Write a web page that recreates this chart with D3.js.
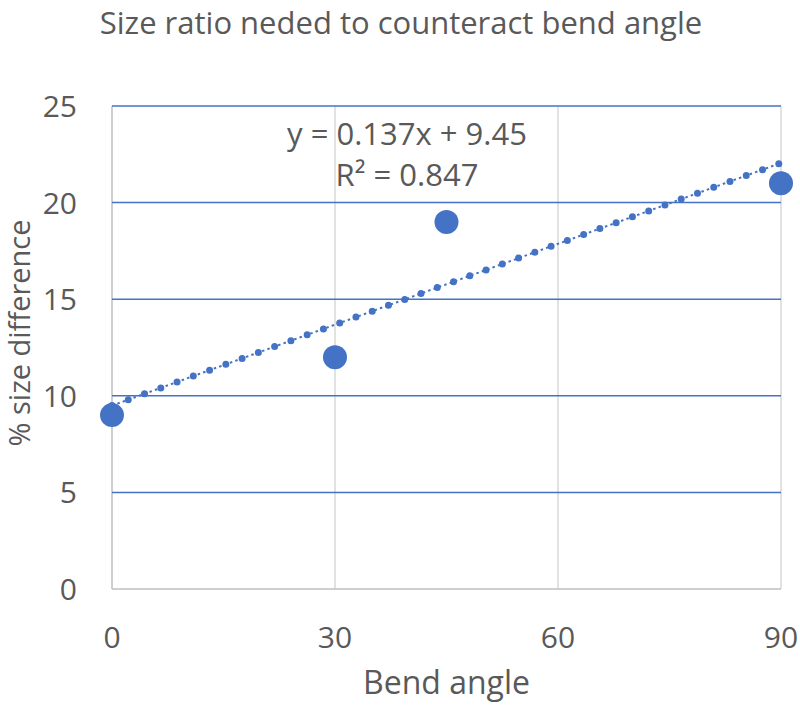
<!DOCTYPE html>
<html>
<head>
<meta charset="utf-8">
<script src="https://cdn.jsdelivr.net/npm/d3@7"></script>
<style>
  body { margin: 0; background: #fff; }
  text { font-family: "Open Sans", sans-serif; fill: #595959; }
</style>
</head>
<body>
<div id="container"></div>
<script>
// Datos
var angles = [0, 30, 45, 90]
var sizeDiff = [9, 12, 19, 21]
var xTicks = [0, 30, 60, 90]
var yTicks = [0, 5, 10, 15, 20, 25]
var eqLines = ["y = 0.137x + 9.45", "R² = 0.847"]

var margin = { top: 106, left: 112, right: 19, bottom: 117 },
  width = 800 - margin.left - margin.right,
  height = 706 - margin.top - margin.bottom

var svg = d3.select("#container")
  .append("svg")
  .attr("width", 800)
  .attr("height", 706)

var g = svg.append("g")
  .attr("transform", "translate(" + margin.left + "," + margin.top + ")")

// Escalas
var x = d3.scaleLinear().domain([0, 90]).range([0, width])
var y = d3.scaleLinear().domain([0, 25]).range([height, 0])

// Grade vertical
g.selectAll(".vgrid")
  .data(xTicks)
  .enter().append("line")
  .attr("x1", function(d) { return x(d) })
  .attr("x2", function(d) { return x(d) })
  .attr("y1", 0)
  .attr("y2", height)
  .attr("stroke", function(d) { return d == 0 ? "#bfbfbf" : "#d9d9d9" })
  .attr("stroke-width", 1.5)

// Grade horizontal
g.selectAll(".hgrid")
  .data(yTicks)
  .enter().append("line")
  .attr("x1", 0)
  .attr("x2", width)
  .attr("y1", function(d) { return y(d) })
  .attr("y2", function(d) { return y(d) })
  .attr("stroke", function(d) { return d == 0 ? "#bfbfbf" : "#4472c4" })
  .attr("stroke-width", 1.5)

// Rótulos dos eixos
g.selectAll(".xlab")
  .data(xTicks)
  .enter().append("text")
  .attr("x", function(d) { return x(d) })
  .attr("y", height + 59)
  .attr("text-anchor", "middle")
  .attr("font-size", 30)
  .text(function(d) { return d })

g.selectAll(".ylab")
  .data(yTicks)
  .enter().append("text")
  .attr("x", -35)
  .attr("y", function(d) { return y(d) + 11 })
  .attr("text-anchor", "end")
  .attr("font-size", 30)
  .text(function(d) { return d })

// Linha de tendência (mínimos quadrados)
var mx = d3.mean(angles), my = d3.mean(sizeDiff)
var sxy = d3.sum(angles, function(a, i) { return (a - mx) * (sizeDiff[i] - my) })
var sxx = d3.sum(angles, function(a) { return (a - mx) * (a - mx) })
var slope = sxy / sxx, intercept = my - slope * mx
var trend = [0, 90].map(function(a) { return [a, intercept + slope * a] })

var line = d3.line()
  .x(function(d) { return x(d[0]) })
  .y(function(d) { return y(d[1]) })

g.append("path")
  .datum(trend)
  .attr("d", line)
  .attr("fill", "none")
  .attr("stroke", "#4472c4")
  .attr("stroke-width", 2)
  .attr("stroke-dasharray", "2.5 3.2")

g.append("path")
  .datum(trend)
  .attr("d", line)
  .attr("fill", "none")
  .attr("stroke", "#4472c4")
  .attr("stroke-width", 7)
  .attr("stroke-linecap", "round")
  .attr("stroke-dasharray", "0 17.3")

// Pontos
g.selectAll(".dot")
  .data(angles)
  .enter().append("circle")
  .attr("cx", function(d) { return x(d) })
  .attr("cy", function(d, i) { return y(sizeDiff[i]) })
  .attr("r", 12)
  .attr("fill", "#4472c4")

// Equação
g.selectAll(".eq")
  .data(eqLines)
  .enter().append("text")
  .attr("x", 295)
  .attr("y", function(d, i) { return 39 + i * 41 })
  .attr("text-anchor", "middle")
  .attr("font-size", 31)
  .text(function(d) { return d })

// Título
svg.append("text")
  .attr("x", 401)
  .attr("y", 34)
  .attr("text-anchor", "middle")
  .attr("font-size", 31)
  .text("Size ratio neded to counteract bend angle")

svg.append("text")
  .attr("x", margin.left + width / 2)
  .attr("y", 694)
  .attr("text-anchor", "middle")
  .attr("font-size", 32)
  .text("Bend angle")

svg.append("text")
  .attr("transform", "translate(30,333) rotate(-90)")
  .attr("text-anchor", "middle")
  .attr("font-size", 29)
  .text("% size difference")
</script>
</body>
</html>
